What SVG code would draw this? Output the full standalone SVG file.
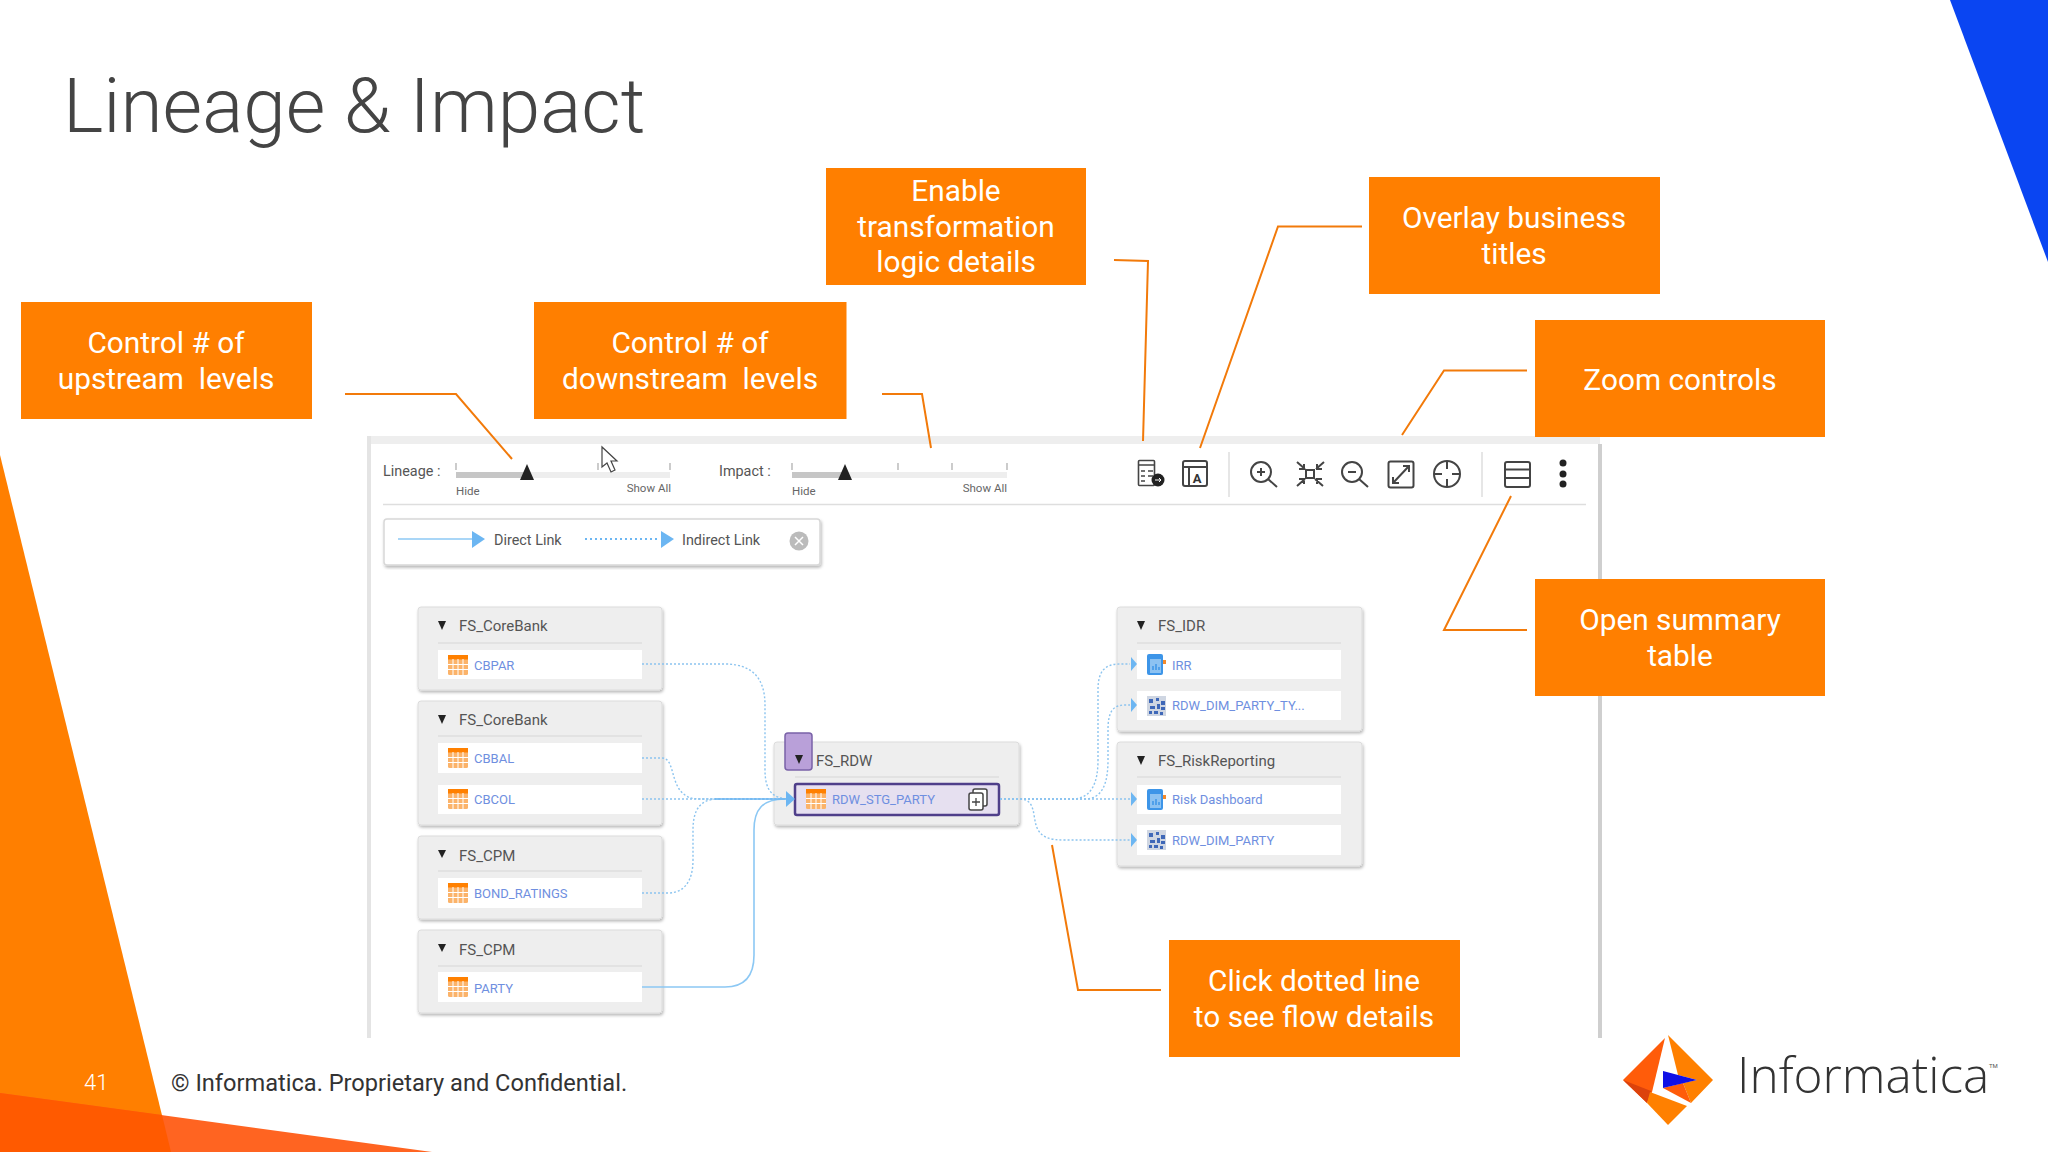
<svg xmlns="http://www.w3.org/2000/svg" xmlns:xlink="http://www.w3.org/1999/xlink" width="2048" height="1152" viewBox="0 0 2048 1152">
<style>
text{font-family:Roboto,"Liberation Sans",sans-serif}
.call{fill:#ff7f00}
.callt{fill:#fff;font-size:29.800px;text-anchor:middle;font-weight:400}
.lead{fill:none;stroke:#f27a0a;stroke-width:2}
.box{fill:#eeeeee;stroke:#dcdcdc;stroke-width:1;filter:url(#sh)}
.row{fill:#fff}
.sep{stroke:#dedede;stroke-width:1.5;fill:none}
.nt{fill:#555;font-size:15px}
.rt{fill:#6f8fe0;font-size:13px}
.tri{fill:#222}
.dot{fill:none;stroke:#8cc4ef;stroke-width:1.4;stroke-dasharray:2 2}
.sol{fill:none;stroke:#8cc8f4;stroke-width:1.6}
.ah{fill:#6cb6f2}
.ui{fill:#555;font-size:14.400px}
.sm{fill:#666;font-size:11.5px}
.ic{fill:none;stroke:#444;stroke-width:2}
.trk{fill:#eeeeee}
.trd{fill:#c6c6c6}
.tick{stroke:#aaa;stroke-width:1.2}
</style>
<defs>
<filter id="sh" x="-5%" y="-5%" width="110%" height="115%"><feDropShadow dx="1" dy="2" stdDeviation="1.5" flood-color="#000" flood-opacity=".28"/></filter>
<g id="tbl"><rect x="0" y="0" width="20" height="20" rx="1.5" fill="#fbb36a"/><rect x="0" y="0" width="20" height="4.5" fill="#ff8000"/><path d="M0 9.5H20M0 14.500H20M5 4V20M10 4V20M15 4V20" stroke="#fff" stroke-width="1"/></g>
<g id="rep"><rect x="0" y="0" width="16" height="21" rx="2" fill="#3d95e8"/><rect x="3" y="5" width="11" height="14" fill="#8cc2f2"/><path d="M6 16v-4M9 16v-6M12 16v-3" stroke="#3d95e8" stroke-width="1.500"/><rect x="16" y="6" width="3" height="4" fill="#f58a2a"/></g>
<g id="cube"><rect x="0" y="0" width="19" height="20" fill="#cfd6e2"/><path d="M2 3h4v4h-4zM9 2h3v3h-3zM14 5h4v4h-4zM3 10h5v3h-5zM10 8h3v5h-3zM14 11h4v3h-4zM2 15h3v3h-3zM7 15h4v3h-4zM13 16h3v3h-3z" fill="#3f68b8"/></g>
</defs>
<rect width="2048" height="1152" fill="#fff"/>
<polygon points="1950,0 2048,0 2048,262" fill="#0a45f2"/>
<polygon points="0,455 171,1152 0,1152" fill="#ff7f00"/>
<polygon points="0,1093 432,1152 0,1152" fill="#ff6421"/>
<polygon points="0,1093 162,1115 171,1152 0,1152" fill="#ff5a00"/>
<text x="63" y="132" font-size="76.500" font-weight="300" fill="#444">Lineage &amp; Impact</text>
<text x="84" y="1090" font-size="22" fill="#fff" font-weight="300">41</text>
<text x="171" y="1091" font-size="23.600" fill="#333">© Informatica. Proprietary and Confidential.</text>

<g id="panel">
<rect x="367" y="436" width="1233" height="8" fill="#eeeeee"/>
<rect x="367" y="436" width="4" height="602" fill="#e4e4e4"/>
<rect x="1598" y="444" width="4" height="594" fill="#cfcfcf"/>
<path class="sep" d="M383 504.500H1586"/>
<text class="ui" x="383" y="476">Lineage :</text>
<rect class="trk" x="456" y="472" width="214" height="6"/><rect class="trd" x="456" y="472" width="71" height="6"/>
<path class="tick" d="M456 463V470M598 463V470M670 463V470"/>
<polygon class="tri" points="527,464 534,480 520,480"/>
<text class="sm" x="456" y="495">Hide</text><text class="sm" x="671" y="492" text-anchor="end">Show All</text>
<text class="ui" x="719" y="476">Impact :</text>
<rect class="trk" x="792" y="472" width="215" height="6"/><rect class="trd" x="792" y="472" width="53" height="6"/>
<path class="tick" d="M792 463V470M898 463V470M952 463V470M1007 463V470"/>
<polygon class="tri" points="845,464 852,480 838,480"/>
<text class="sm" x="792" y="495">Hide</text><text class="sm" x="1007" y="492" text-anchor="end">Show All</text>
</g>
<g id="legend">
<rect x="384" y="519" width="436" height="46" rx="3" fill="#fff" stroke="#d8d8d8" stroke-width="1.500" filter="url(#sh)"/>
<path class="sol" d="M398 539H473"/><polygon class="ah" points="472,531 485,539 472,548"/>
<text class="ui" x="494" y="545">Direct Link</text>
<path d="M585 539H660" fill="none" stroke="#6cb6f2" stroke-width="2" stroke-dasharray="2 3"/><polygon class="ah" points="661,531 674,539 661,548"/>
<text class="ui" x="682" y="545">Indirect Link</text>
<circle cx="799" cy="541" r="9.500" fill="#bbb"/><path d="M795 537l8 8M803 537l-8 8" stroke="#fff" stroke-width="1.500"/>
</g>
<g id="toolbar">
<path class="sep" d="M1229 452V497M1482 452V497"/>
<g id="icon-logic"><rect class="ic" style="stroke-width:1.600" x="1138.500" y="460.500" width="16" height="25" rx="1"/><path class="ic" style="stroke-width:1.600" d="M1139 465H1154M1141 471h4M1148 471h5M1141 476h4M1148 476h5M1141 481h4"/><circle cx="1158" cy="480" r="6.500" fill="#222"/><path d="M1155 480h6M1159 478l2 2-2 2" stroke="#fff" fill="none"/></g>
<g id="icon-title"><rect class="ic" x="1183" y="461" width="24" height="25" rx="2"/><path class="ic" d="M1183 467h24M1189 467v19"/><text x="1197" y="483" font-size="13" font-weight="700" fill="#333" text-anchor="middle">A</text></g>
<g id="icon-zoom" class="ic">
<circle cx="1261" cy="472" r="10"/><path d="M1268 479l9 8M1257 472h8M1261 468v8"/>
<rect x="1306" y="470" width="8" height="8"/><path d="M1297 462l8 7M1324 462l-8 7M1297 486l8-7M1323 486l-8-7M1304 464v5h-5M1317 464v5h5M1304 484v-5h-5M1317 484v-5h5"/>
<circle cx="1352" cy="472" r="10"/><path d="M1359 479l9 8M1348 472h8"/>
<rect x="1388.500" y="461.500" width="25" height="26" rx="2"/><path d="M1393 483l16-17M1403 466h6v6M1393 477v6h6"/>
<circle cx="1447" cy="474" r="13"/><path d="M1447 461v8M1447 479v8M1434 474h8M1452 474h8"/>
</g>
<g id="icon-summary"><rect class="ic" x="1505" y="462" width="25" height="25" rx="2"/><path class="ic" d="M1505 469.500h25M1505 478h25"/></g>
<g id="icon-more" fill="#222"><circle cx="1563" cy="463" r="3.500"/><circle cx="1563" cy="474" r="3.500"/><circle cx="1563" cy="484" r="3.500"/></g>
</g>
<path id="cursor" d="M602 447V467L607 463L611 472L615 470L611 461L617 461Z" fill="#fff" stroke="#444" stroke-width="1.200"/>

<g id="n1"><rect class="box" x="418" y="607" width="244" height="83" rx="3"/><polygon class="tri" points="438,621 446,621 442,630"/><text class="nt" x="459" y="631">FS_CoreBank</text><path class="sep" d="M438 643H642"/><rect class="row" x="438" y="650" width="204" height="29"/><use href="#tbl" x="448" y="655"/><text class="rt" x="474" y="670">CBPAR</text></g>
<g id="n2"><rect class="box" x="418" y="701" width="244" height="124" rx="3"/><polygon class="tri" points="438,715 446,715 442,724"/><text class="nt" x="459" y="725">FS_CoreBank</text><path class="sep" d="M438 736H642"/><rect class="row" x="438" y="743" width="204" height="30"/><use href="#tbl" x="448" y="748"/><text class="rt" x="474" y="763">CBBAL</text><rect class="row" x="438" y="785" width="204" height="29"/><use href="#tbl" x="448" y="789"/><text class="rt" x="474" y="804">CBCOL</text></g>
<g id="n3"><rect class="box" x="418" y="836" width="244" height="83" rx="3"/><polygon class="tri" points="438,850 446,850 442,858"/><text class="nt" x="459" y="861">FS_CPM</text><path class="sep" d="M438 871H642"/><rect class="row" x="438" y="878" width="204" height="30"/><use href="#tbl" x="448" y="883"/><text class="rt" x="474" y="898">BOND_RATINGS</text></g>
<g id="n4"><rect class="box" x="418" y="930" width="244" height="83" rx="3"/><polygon class="tri" points="438,944 446,944 442,952"/><text class="nt" x="459" y="955">FS_CPM</text><path class="sep" d="M438 966H642"/><rect class="row" x="438" y="972" width="204" height="30"/><use href="#tbl" x="448" y="977"/><text class="rt" x="474" y="993">PARTY</text></g>
<g id="n5"><rect class="box" x="774" y="742" width="245" height="83" rx="3"/><rect x="785" y="733" width="27" height="37" rx="3" fill="#b9a0d9" stroke="#7a62a8" stroke-width="1.500"/><polygon class="tri" points="795,755 803,755 799,764"/><text class="nt" x="816" y="766">FS_RDW</text><path class="sep" d="M795 777H999"/><rect x="795" y="784" width="204" height="31" rx="2" fill="#e6e0f0" stroke="#4f3f8a" stroke-width="2.500"/><use href="#tbl" x="806" y="789"/><text class="rt" x="832" y="804">RDW_STG_PARTY</text><g fill="#fff" stroke="#444" stroke-width="1.500"><rect x="973" y="789" width="14" height="17" rx="2"/><rect x="969" y="793" width="14" height="17" rx="2"/></g><path d="M972 802h8M976 798v8" stroke="#444" stroke-width="1.300"/></g>
<g id="n6"><rect class="box" x="1117" y="607" width="245" height="124" rx="3"/><polygon class="tri" points="1137,621 1145,621 1141,630"/><text class="nt" x="1158" y="631">FS_IDR</text><path class="sep" d="M1137 643H1341"/><rect class="row" x="1137" y="650" width="204" height="29"/><use href="#rep" x="1147" y="654"/><text class="rt" x="1172" y="670">IRR</text><rect class="row" x="1137" y="691" width="204" height="29"/><use href="#cube" x="1147" y="696"/><text class="rt" x="1172" y="710">RDW_DIM_PARTY_TY...</text></g>
<g id="n7"><rect class="box" x="1117" y="742" width="245" height="124" rx="3"/><polygon class="tri" points="1137,756 1145,756 1141,765"/><text class="nt" x="1158" y="766">FS_RiskReporting</text><path class="sep" d="M1137 777H1341"/><rect class="row" x="1137" y="785" width="204" height="29"/><use href="#rep" x="1147" y="789"/><text class="rt" x="1172" y="804">Risk Dashboard</text><rect class="row" x="1137" y="825" width="204" height="30"/><use href="#cube" x="1147" y="830"/><text class="rt" x="1172" y="845">RDW_DIM_PARTY</text></g>

<g id="connectors">
<path class="dot" d="M642 664H725C752 664 765 678 765 705V770C765 790 772 799 790 799"/>
<path class="dot" d="M642 758H662C675 758 670 785 685 795C690 799 695 799 710 799H790"/>
<path class="dot" d="M642 799H790"/>
<path class="dot" d="M642 893H668C685 893 693 880 693 860V830C693 810 700 799 718 799"/>
<path class="sol" d="M642 987H725C745 987 754 975 754 955V830C754 810 762 799 785 799"/>
<path class="sol" d="M715 799H790" style="stroke:#6cb6f2"/>
<polygon class="ah" points="786,791 795,799 786,807"/>
<path class="dot" d="M1000 799H1130"/>
<path class="dot" d="M1000 799H1072C1092 799 1098 782 1098 760V690C1098 672 1104 664 1120 664H1130"/>
<path class="dot" d="M1000 799H1085C1103 799 1108 782 1108 760V730C1108 713 1112 705 1125 705H1130"/>
<path class="dot" d="M1000 799H1020C1035 799 1033 815 1036 825C1040 838 1050 840 1065 840H1130"/>
<polygon class="ah" points="1131,657 1137,664 1131,671"/>
<polygon class="ah" points="1131,698 1137,705 1131,712"/>
<polygon class="ah" points="1131,792 1137,799 1131,806"/>
<polygon class="ah" points="1131,833 1137,840 1131,847"/>
<path class="lead" d="M345 394H456L512 459"/>
<path class="lead" d="M882 394H922L931 448"/>
<path class="lead" d="M1114 260L1148 261L1143 441"/>
<path class="lead" d="M1362 226.500H1278L1200 448"/>
<path class="lead" d="M1527 370.500H1444L1402 435"/>
<path class="lead" d="M1527 630H1444L1511 496"/>
<path class="lead" d="M1161 990H1078L1052 845"/>
</g>

<g id="c1"><rect class="call" x="21" y="302" width="291" height="117"/><text class="callt" x="166" y="353">Control # of</text><text class="callt" x="166" y="389" xml:space="preserve">upstream  levels</text></g>
<g id="c2"><rect class="call" x="534" y="302" width="312.500" height="117"/><text class="callt" x="690" y="353">Control # of</text><text class="callt" x="690" y="389" xml:space="preserve">downstream  levels</text></g>
<g id="c3"><rect class="call" x="826" y="168" width="260" height="117"/><text class="callt" x="956" y="201">Enable</text><text class="callt" x="956" y="237">transformation</text><text class="callt" x="956" y="272">logic details</text></g>
<g id="c4"><rect class="call" x="1369" y="177" width="291" height="117"/><text class="callt" x="1514" y="228">Overlay business</text><text class="callt" x="1514" y="264">titles</text></g>
<g id="c5"><rect class="call" x="1535" y="320" width="290" height="117"/><text class="callt" x="1680" y="390">Zoom controls</text></g>
<g id="c6"><rect class="call" x="1535" y="579" width="290" height="117"/><text class="callt" x="1680" y="630">Open summary</text><text class="callt" x="1680" y="666">table</text></g>
<g id="c7"><rect class="call" x="1169" y="940" width="291" height="117"/><text class="callt" x="1314" y="991">Click dotted line</text><text class="callt" x="1314" y="1027">to see flow details</text></g>

<g id="logo">
<polygon points="1665,1038 1623,1080 1647,1103 1652,1092" fill="#ff5c0a"/>
<polygon points="1623,1080 1647,1103 1651,1091" fill="#dc420c"/>
<polygon points="1650,1092 1687,1106 1668,1125 1647,1103" fill="#ff8000"/>
<polygon points="1668,1035 1713,1080 1691,1103 1683,1083 1697,1080 1678,1075" fill="#ff8000"/>
<polygon points="1663,1088 1683,1083 1691,1103" fill="#ff5c0a"/>
<polygon points="1663,1071 1697,1080 1663,1088" fill="#1010e6"/>
<text x="1737" y="1093" font-size="49.500" font-weight="300" fill="#333" style="font-family:'Open Sans',Roboto,sans-serif">Informatica</text>
<text x="1989" y="1068" font-size="6" fill="#555">TM</text>
</g>
</svg>
